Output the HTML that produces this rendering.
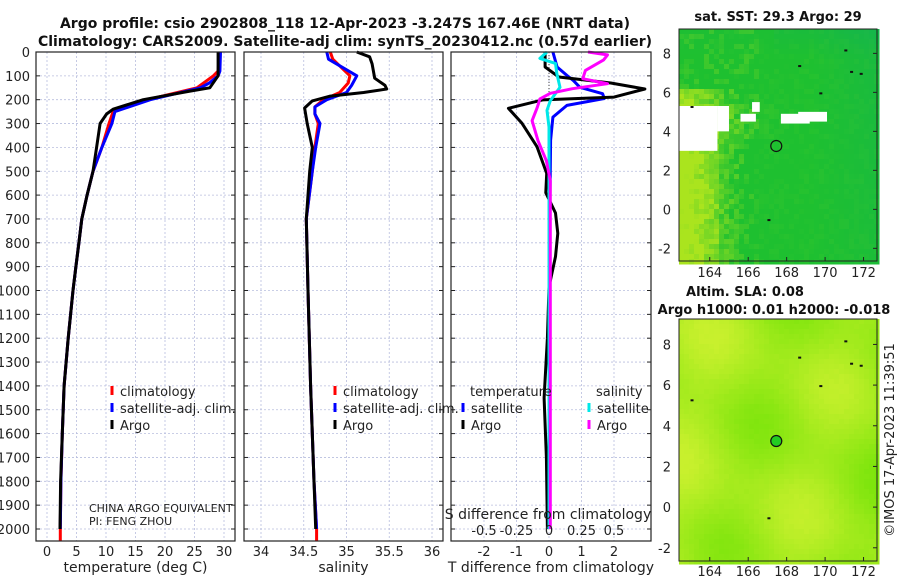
<!DOCTYPE html>
<html><head><meta charset="utf-8">
<style>
body{margin:0;background:#fff;width:900px;height:580px;overflow:hidden;font-family:"Liberation Sans","DejaVu Sans",sans-serif}
svg text{font-family:"DejaVu Sans","Liberation Sans",sans-serif}
</style></head>
<body>
<svg id="fig" width="900" height="580" xmlns="http://www.w3.org/2000/svg">
<text x="345" y="28" text-anchor="middle" font-size="14" font-weight="bold" fill="#111">Argo profile: csio 2902808_118 12-Apr-2023 -3.247S 167.46E (NRT data)</text>
<text x="345" y="46" text-anchor="middle" font-size="14" font-weight="bold" fill="#111">Climatology: CARS2009. Satellite-adj clim: synTS_20230412.nc (0.57d earlier)</text>
<text x="778" y="21" text-anchor="middle" font-size="13" font-weight="bold" fill="#111">sat. SST: 29.3 Argo: 29</text>
<text x="745" y="296" text-anchor="middle" font-size="13" font-weight="bold" fill="#111">Altim. SLA: 0.08</text>
<text x="774" y="314" text-anchor="middle" font-size="13" font-weight="bold" fill="#111">Argo h1000: 0.01 h2000: -0.018</text>
<text transform="translate(894,440) rotate(-90)" text-anchor="middle" font-size="13" fill="#222">©IMOS 17-Apr-2023 11:39:51</text>
<g id="plots"></g>
</svg>
<script>
// ---- data (depth in dbar) ----
const tArgoDepth = [0,80,100,150,165,200,240,260,300,400,500,600,700,800,900,1000,1200,1400,1600,1800,2000];
const tArgoVal   = [29,29,29,27.6,24,16.3,11.2,10.1,9.0,8.4,7.8,6.8,5.9,5.4,4.9,4.4,3.6,2.9,2.6,2.3,2.2];
const tClimDepth = [0,80,100,150,200,250,300,400,500,600,700,800,900,1000,1200,1400,1600,1800,2000,2050];
const tClimVal   = [29.2,29.0,28.2,25.4,17.0,11.2,10.5,9.3,7.8,6.8,5.9,5.4,4.9,4.4,3.6,2.9,2.6,2.35,2.25,2.25];
const tSatDepth  = [0,80,100,130,150,200,250,300,400,500,600,700,800,900,1000,1200,1400,1600,1800,2000];
const tSatVal    = [29.4,29.3,29.0,27.5,26.0,17.5,11.5,11.0,9.3,7.8,6.8,5.9,5.4,4.9,4.4,3.6,2.9,2.6,2.35,2.25];

const sArgoDepth = [0,20,50,110,140,155,170,185,205,235,300,400,500,600,700,1000,1400,1800,2000];
const sArgoVal   = [35.12,35.27,35.3,35.33,35.45,35.47,35.2,34.81,34.6,34.51,34.54,34.6,34.57,34.55,34.53,34.55,34.58,34.62,34.64];
const sClimDepth = [0,30,100,130,170,200,230,260,300,400,500,700,1000,1400,1800,2000,2050];
const sClimVal   = [34.81,34.84,35.04,35.02,34.92,34.73,34.63,34.63,34.67,34.63,34.6,34.53,34.55,34.58,34.62,34.65,34.65];
const sSatDepth  = [0,30,100,140,170,200,230,260,300,400,500,700,1000,1400,1800,2000];
const sSatVal    = [34.77,34.79,35.12,35.06,35.0,34.77,34.63,34.63,34.69,34.64,34.6,34.53,34.55,34.58,34.62,34.65];

const dtArgoDepth = [0,63,105,130,155,189,201,236,299,397,509,590,675,760,858,985,1200,1450,1700,2000];
const dtArgoVal   = [-0.12,-0.12,0.3,1.9,2.95,2.0,-0.2,-1.25,-0.83,-0.37,-0.07,-0.1,0.2,0.27,0.2,0,-0.05,-0.15,-0.08,-0.05];
const dtSatDepth  = [0,63,98,120,148,175,195,224,273,370,600,1000,1500,2000];
const dtSatVal    = [0.12,0.25,0.55,0.75,0.95,1.65,1.7,0.55,0.12,0.05,0.03,0.02,0.02,0.02];
const dsSatDepth  = [0,27,48,90,148,204,245,315,600,1000,1500,2000];
const dsSatVal    = [-0.015,-0.07,0.05,0.06,0.085,0.01,-0.015,0,0,0,0,0];
const dsArgoDepth = [0,12,33,77,112,133,154,173,197,232,288,372,456,540,800,1200,1600,2000];
const dsArgoVal   = [0.3,0.45,0.42,0.28,0.26,0.45,0.18,0.01,-0.07,-0.09,-0.13,-0.085,-0.02,0.01,0.01,0.01,0.01,0.01];

const depthTicks = [0,100,200,300,400,500,600,700,800,900,1000,1100,1200,1300,1400,1500,1600,1700,1800,1900,2000];
const tempTicks = [0,5,10,15,20,25,30];
const salTicks = [34,34.5,35,35.5,36];
const tdTicks = [-2,-1,0,1,2];
const sdTicks = [-0.5,-0.25,0,0.25,0.5];
const sdLabels = ['-0.5','-0.25','0','0.25','0.5'];
const lonTicks = [164,166,168,170,172];
const latTicks = [-2,0,2,4,6,8];

// ---- scales ----
const Y0=52, Y1=541;
const yD = d => Y0 + d*0.2385;
const xT = t => 47 + t*5.9;
const xS = s => 261 + (s-34)*85.5;
const xTD = v => 549 + v*32.5;
const xSD = v => 549 + v*130;

const NS='http://www.w3.org/2000/svg';
const root=document.getElementById('plots');
function mk(tag,attrs,parent){const e=document.createElementNS(NS,tag);for(const k in attrs)e.setAttribute(k,attrs[k]);(parent||root).appendChild(e);return e;}
function txt(s,x,y,size,anchor,parent){const e=mk('text',{x:x,y:y,'font-size':size,'text-anchor':anchor||'middle',fill:'#222'},parent);e.textContent=s;return e;}

const panels=[{x0:36,x1:235,name:'temperature-panel',ticks:tempTicks,f:xT,labels:tempTicks.map(String),title:'temperature (deg C)'},
 {x0:244,x1:443,name:'salinity-panel',ticks:salTicks,f:xS,labels:salTicks.map(String),title:'salinity'},
 {x0:451,x1:651,name:'difference-panel',ticks:tdTicks,f:xTD,labels:tdTicks.map(String),title:'T difference from climatology'}];

panels.forEach((p,i)=>{
  const g=mk('g',{});
  
  
  depthTicks.forEach(d=>{
    const l=mk('line',{x1:p.x0,x2:p.x1,y1:yD(d),y2:yD(d),stroke:'#b8bede','stroke-width':0.8,'stroke-dasharray':'2,2'},g);
    
    
    mk('line',{x1:p.x0,x2:p.x0+4,y1:yD(d),y2:yD(d),stroke:'#222','stroke-width':1},g);
    mk('line',{x1:p.x1-4,x2:p.x1,y1:yD(d),y2:yD(d),stroke:'#222','stroke-width':1},g);
  });
  p.ticks.forEach((t,k)=>{
    const x=p.f(t);
    const l=mk('line',{x1:x,x2:x,y1:Y0,y2:Y1,stroke:'#b8bede','stroke-width':0.8,'stroke-dasharray':'2,2'},g);
    
    
    const tl=txt(p.labels[k],x,556,13,'middle',g);
    
    
  });
  const at=txt(p.title,(p.x0+p.x1)/2,572,14,'middle',g);
  
  
});

depthTicks.forEach(d=>{
  const t=txt(String(d),30,yD(d)+5,13,'end');
  
  
});

function line(depths,vals,fx,color,name,w){
  const pts=depths.map((d,i)=>fx(vals[i]).toFixed(1)+','+yD(d).toFixed(1)).join(' ');
  const e=mk('polyline',{points:pts,fill:'none',stroke:color,'stroke-width':w||3,'stroke-linejoin':'round'});
  
  
}
const z=mk('line',{x1:549,x2:549,y1:yD(0),y2:yD(170),stroke:'#444','stroke-width':1,'stroke-dasharray':'1,2'});



line(tClimDepth,tClimVal,xT,'#ff0000','temp-climatology-line');
line(tSatDepth,tSatVal,xT,'#0000ff','temp-satellite-line');
line(tArgoDepth,tArgoVal,xT,'#000000','temp-argo-line');
line(sClimDepth,sClimVal,xS,'#ff0000','salinity-climatology-line');
line(sSatDepth,sSatVal,xS,'#0000ff','salinity-satellite-line');
line(sArgoDepth,sArgoVal,xS,'#000000','salinity-argo-line');
line(dtSatDepth,dtSatVal,xTD,'#0000ff','tdiff-satellite-line');
line(dtArgoDepth,dtArgoVal,xTD,'#000000','tdiff-argo-line');
line(dsSatDepth,dsSatVal,xSD,'#00e8e8','sdiff-satellite-line');
line(dsArgoDepth,dsArgoVal,xSD,'#ff00ff','sdiff-argo-line');

panels.forEach(p=>{
  const r=mk('rect',{x:p.x0,y:Y0,width:p.x1-p.x0,height:Y1-Y0,fill:'none',stroke:'#222','stroke-width':1.2});
  
  
});

function legend(x,y,color,label,name){
  const m=mk('line',{x1:x,x2:x,y1:y-10,y2:y-1,stroke:color,'stroke-width':3});
  
  
  const t=txt(label,x+8,y,13,'start');
  
  
}
legend(112,396,'#ff0000','climatology','legend-temp-climatology');
legend(112,413,'#0000ff','satellite-adj. clim.','legend-temp-satellite');
legend(112,430,'#000000','Argo','legend-temp-argo');
legend(335,396,'#ff0000','climatology','legend-sal-climatology');
legend(335,413,'#0000ff','satellite-adj. clim.','legend-sal-satellite');
legend(335,430,'#000000','Argo','legend-sal-argo');
let tt=txt('temperature',470,396,13,'start');  
tt=txt('salinity',596,396,13,'start');  
legend(463,413,'#0000ff','satellite','legend-tdiff-satellite');
legend(463,430,'#000000','Argo','legend-tdiff-argo');
legend(589,413,'#00e8e8','satellite','legend-sdiff-satellite');
legend(589,430,'#ff00ff','Argo','legend-sdiff-argo');

tt=txt('CHINA ARGO EQUIVALENT',89,512,11,'start');  
tt=txt('PI: FENG ZHOU',89,525,11,'start');  
tt=txt('S difference from climatology',548,519,14,'middle');  
sdTicks.forEach((v,k)=>{const t=txt(sdLabels[k],xSD(v),535,13,'middle');  });

// ---- maps ----
function hash(i,j){let h=(i*374761393+j*668265263)>>>0;h=(h^(h>>>13))*1274126177>>>0;return ((h^(h>>>16))>>>0)/4294967295;}
function mix(a,b,t){return a.map((v,i)=>Math.round(v+(b[i]-v)*t));}
function drawMap(X0,X1,MY0,MY1,kind,name,labOff){
  const g=mk('g',{});
  
  
  const lon=l=>X0+(l-162.4)*(X1-X0)/(172.7-162.4);
  const lat=a=>MY0+(9.25-a)*(MY1-MY0)/(9.25+2.65);
  const cs=5, nx=Math.ceil((X1-X0)/cs), ny=Math.ceil((MY1-MY0)/cs);
  for(let i=0;i<nx;i++)for(let j=0;j<ny;j++){
    const u=i/nx, v=j/ny, n=hash(i+(kind?99:0),j);
    let c;
    if(kind===0){
      let yel=0;
      if(v>0.25){ yel=Math.max(0,(0.32-u)*3.0); }
      if(v>0.45 && u<0.2) yel+=0.25;
      if(v>0.3&&v<0.45&&u<0.55) yel+=0.3*(0.55-u)*2;
      yel=Math.max(0,Math.min(1,yel+(n-0.5)*0.5*(u<0.4?1:0.25)));
      let teal=Math.max(0,(u-0.65))*1.0*(1-v*0.5)+Math.max(0,0.12-v)*2*(u>0.45?1:0.3);
      c=mix([30,192,48],[170,228,30],yel);
      c=mix(c,[15,175,95],Math.min(1,teal));
    } else {
      let f=0.55+0.22*Math.sin(u*9+v*3)+0.2*Math.cos(v*11-u*4)+0.15*(0.4-u)+(n-0.5)*0.06;
      f=Math.max(0,Math.min(1,f));
      c=mix([120,228,10],[200,240,45],f);
    }
    mk('rect',{x:X0+i*cs,y:MY0+j*cs,width:cs+0.5,height:cs+0.5,fill:'rgb('+c.join(',')+')'},g);
  }
  if(kind===0){
    [[162.4,5.3,164.4,3.0],[164.4,5.3,165.0,4.0],[165.6,4.9,166.4,4.5],[166.2,5.5,166.6,5.0],[167.7,4.9,169.2,4.4],[168.6,5.0,170.1,4.5]].forEach(r=>{
      mk('rect',{x:lon(r[0]),y:lat(r[1]),width:lon(r[2])-lon(r[0]),height:lat(r[3])-lat(r[1]),fill:'#fff'},g);
    });
  }
  [[171.3,7.1],[171.8,7.0],[169.7,6.0],[168.6,7.4],[171.0,8.2],[163.0,5.3],[167.0,-0.5]].forEach(p=>{
    mk('rect',{x:lon(p[0]),y:lat(p[1]),width:3,height:2,fill:'#111'},g);
  });
  const c=mk('circle',{cx:lon(167.46),cy:lat(3.25),r:5.5,fill:kind?'#22cc22':'none',stroke:'#111','stroke-width':1.2},g);
  
  
  mk('rect',{x:X0,y:MY0,width:X1-X0,height:MY1-MY0,fill:'none',stroke:'#222','stroke-width':1},g);
  lonTicks.forEach(l=>{mk('line',{x1:lon(l),x2:lon(l),y1:MY1,y2:MY1-4,stroke:'#222'},g);
    const t=txt(String(l),lon(l),MY1+labOff,13,'middle',g);  });
  latTicks.forEach(a=>{mk('line',{x1:X1,x2:X1-4,y1:lat(a),y2:lat(a),stroke:'#222'},g);
    const t=txt(String(a),X0-8,lat(a)+5,13,'end',g);  });
}
drawMap(679,877,29,261,0,'sst-map',16);
drawMap(679,877,319,561,1,'sla-map',15);
</script>
</body></html>
